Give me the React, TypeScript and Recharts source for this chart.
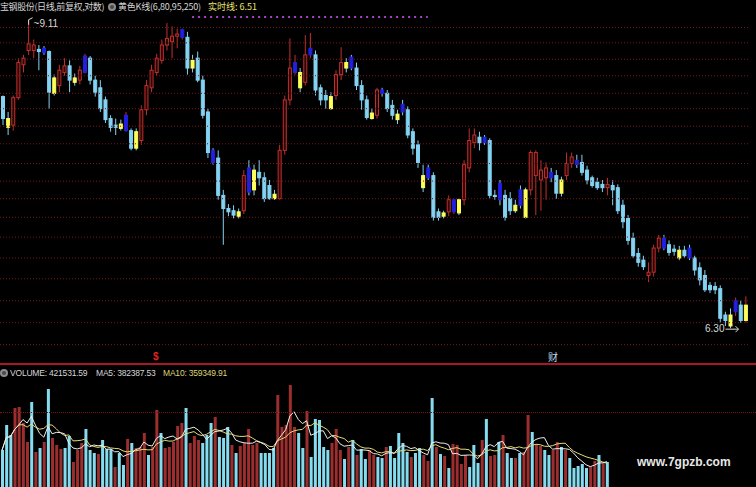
import React from 'react';
import { ComposedChart, Bar, Line, XAxis, YAxis, ReferenceLine, Cell } from 'recharts';

// daily candles (146 sessions)
const OPEN = [
  8.41, 8.21, 8.15, 8.40, 8.70, 8.83, 8.83, 8.84, 8.85, 8.82,
  8.58, 8.51, 8.63, 8.69, 8.58, 8.56, 8.63, 8.76, 8.56, 8.49,
  8.38, 8.21, 8.15, 8.16, 8.10, 8.10, 8.09, 8.01, 8.29, 8.49,
  8.63, 8.74, 8.88, 8.91, 8.96, 8.95, 8.95, 8.74, 8.76, 8.56,
  8.27, 7.92, 7.85, 7.51, 7.39, 7.37, 7.36, 7.37, 7.76, 7.74,
  7.72, 7.67, 7.60, 7.52, 7.48, 7.92, 8.38, 8.63, 8.63, 8.54,
  8.79, 8.79, 8.49, 8.42, 8.41, 8.42, 8.61, 8.72, 8.77, 8.67,
  8.51, 8.38, 8.26, 8.24, 8.47, 8.44, 8.33, 8.25, 8.34, 8.29,
  8.09, 7.97, 7.69, 7.76, 7.69, 7.36, 7.35, 7.36, 7.36, 7.47,
  7.47, 7.76, 7.99, 8.04, 8.04, 8.01, 7.51, 7.62, 7.51, 7.48,
  7.42, 7.56, 7.56, 7.56, 7.69, 7.65, 7.67, 7.72, 7.69, 7.65,
  7.69, 7.80, 7.83, 7.81, 7.74, 7.67, 7.63, 7.61, 7.58, 7.60,
  7.58, 7.42, 7.30, 7.12, 6.98, 6.92, 6.78, 6.81, 7.03, 7.12,
  7.06, 7.02, 7.01, 7.01, 7.03, 6.94, 6.85, 6.78, 6.69, 6.68,
  6.66, 6.42, 6.42, 6.45, 6.51, 6.37,
];
const HIGH = [
  8.42, 8.27, 8.42, 8.76, 8.79, 9.11, 8.93, 8.88, 8.87, 8.83,
  8.61, 8.70, 8.76, 8.74, 8.62, 8.69, 8.80, 8.78, 8.60, 8.56,
  8.41, 8.24, 8.21, 8.20, 8.27, 8.12, 8.12, 8.33, 8.56, 8.70,
  8.80, 8.93, 9.08, 9.05, 9.03, 9.03, 9.00, 8.79, 8.82, 8.60,
  8.30, 7.94, 7.92, 7.56, 7.43, 7.42, 7.39, 7.74, 7.83, 7.79,
  7.83, 7.72, 7.65, 7.56, 7.97, 8.42, 8.94, 8.79, 8.67, 8.97,
  8.99, 8.83, 8.52, 8.47, 8.45, 8.65, 8.86, 8.76, 8.79, 8.72,
  8.56, 8.42, 8.30, 8.49, 8.49, 8.47, 8.38, 8.29, 8.38, 8.32,
  8.12, 8.01, 7.79, 7.79, 7.72, 7.39, 7.37, 7.51, 7.48, 7.48,
  7.83, 8.12, 8.12, 8.09, 8.06, 8.03, 7.56, 7.65, 7.56, 7.54,
  7.47, 7.60, 7.58, 7.92, 7.92, 7.83, 7.81, 7.76, 7.74, 7.68,
  7.90, 7.90, 7.88, 7.88, 7.78, 7.69, 7.67, 7.65, 7.67, 7.65,
  7.61, 7.47, 7.33, 7.17, 7.03, 6.96, 6.90, 7.06, 7.15, 7.15,
  7.10, 7.06, 7.05, 7.05, 7.06, 6.96, 6.90, 6.83, 6.72, 6.72,
  6.69, 6.45, 6.48, 6.58, 6.55, 6.59,
];
const LOW = [
  8.15, 8.06, 8.10, 8.38, 8.63, 8.79, 8.76, 8.65, 8.79, 8.30,
  8.42, 8.45, 8.60, 8.45, 8.51, 8.52, 8.62, 8.52, 8.41, 8.27,
  8.17, 8.09, 8.06, 8.10, 8.09, 7.92, 7.92, 7.97, 8.24, 8.45,
  8.60, 8.71, 8.83, 8.76, 8.85, 8.93, 8.61, 8.63, 8.54, 8.21,
  7.85, 7.79, 7.47, 7.06, 7.32, 7.30, 7.30, 7.34, 7.51, 7.51,
  7.60, 7.45, 7.47, 7.47, 7.47, 7.88, 8.33, 8.61, 8.45, 8.51,
  8.76, 8.42, 8.33, 8.30, 8.29, 8.38, 8.56, 8.63, 8.65, 8.47,
  8.29, 8.20, 8.20, 8.21, 8.41, 8.27, 8.20, 8.16, 8.24, 8.03,
  7.88, 7.76, 7.54, 7.65, 7.28, 7.28, 7.30, 7.32, 7.34, 7.33,
  7.42, 7.72, 7.94, 7.92, 7.97, 7.48, 7.47, 7.42, 7.28, 7.33,
  7.35, 7.39, 7.30, 7.51, 7.33, 7.37, 7.47, 7.63, 7.48, 7.50,
  7.65, 7.76, 7.76, 7.69, 7.61, 7.58, 7.56, 7.54, 7.51, 7.42,
  7.34, 7.21, 7.06, 6.94, 6.86, 6.83, 6.72, 6.77, 6.99, 7.01,
  6.96, 6.96, 6.92, 6.94, 6.92, 6.78, 6.69, 6.63, 6.62, 6.61,
  6.35, 6.32, 6.30, 6.41, 6.35, 6.35,
];
const CLOSE = [
  8.21, 8.13, 8.40, 8.72, 8.76, 8.89, 8.88, 8.82, 8.81, 8.45,
  8.44, 8.65, 8.69, 8.56, 8.54, 8.65, 8.78, 8.56, 8.45, 8.30,
  8.20, 8.13, 8.13, 8.12, 8.24, 7.94, 7.94, 8.29, 8.51, 8.65,
  8.76, 8.88, 8.94, 8.96, 8.98, 9.02, 8.67, 8.67, 8.56, 8.24,
  7.90, 7.81, 7.51, 7.39, 7.36, 7.33, 7.32, 7.69, 7.54, 7.56,
  7.67, 7.48, 7.48, 7.48, 7.92, 8.38, 8.67, 8.72, 8.49, 8.79,
  8.85, 8.47, 8.38, 8.38, 8.30, 8.61, 8.72, 8.67, 8.67, 8.51,
  8.38, 8.22, 8.21, 8.47, 8.44, 8.30, 8.24, 8.20, 8.27, 8.06,
  7.94, 7.81, 7.58, 7.67, 7.31, 7.31, 7.32, 7.47, 7.47, 7.35,
  7.79, 8.01, 8.06, 7.99, 7.99, 7.51, 7.50, 7.47, 7.31, 7.37,
  7.37, 7.42, 7.31, 7.90, 7.90, 7.74, 7.76, 7.67, 7.53, 7.53,
  7.80, 7.86, 7.79, 7.72, 7.65, 7.60, 7.58, 7.58, 7.61, 7.56,
  7.37, 7.27, 7.10, 6.96, 6.90, 6.86, 6.81, 7.03, 7.12, 7.03,
  6.99, 7.00, 6.94, 6.96, 6.94, 6.83, 6.74, 6.65, 6.65, 6.65,
  6.39, 6.37, 6.32, 6.55, 6.37, 6.51,
];

// sessions the 黄色K线 indicator paints yellow / blue
const YELLOW_DAYS = [1, 10, 14, 23, 26, 37, 46, 49, 53, 58, 64, 67, 72, 77, 82, 86, 89, 100, 102, 109, 132, 142, 145];
const BLUE_DAYS = [8, 16, 24, 35, 41, 48, 57, 60, 68, 74, 78, 83, 88, 94, 97, 101, 107, 112, 129, 134, 143];

const VOLUME = [
  624000, 1045000, 877000, 1332000, 1349000, 1079000, 759000, 1433000, 590000, 658000,
  759000, 1652000, 826000, 708000, 641000, 658000, 860000, 422000, 624000, 742000,
  978000, 624000, 573000, 556000, 792000, 641000, 641000, 337000, 573000, 371000,
  809000, 742000, 658000, 674000, 910000, 540000, 674000, 1298000, 910000, 658000,
  674000, 759000, 1028000, 1079000, 1332000, 742000, 860000, 792000, 742000, 877000,
  1079000, 1180000, 843000, 826000, 1012000, 708000, 573000, 691000, 742000, 978000,
  708000, 742000, 573000, 573000, 573000, 658000, 1551000, 1012000, 1045000, 1720000,
  1012000, 910000, 658000, 1281000, 506000, 1146000, 1130000, 674000, 624000, 742000,
  978000, 624000, 472000, 674000, 792000, 540000, 641000, 472000, 624000, 540000,
  506000, 489000, 674000, 691000, 489000, 910000, 742000, 590000, 506000, 573000,
  658000, 540000, 438000, 1501000, 674000, 556000, 523000, 320000, 725000, 708000,
  388000, 540000, 337000, 708000, 405000, 792000, 1146000, 523000, 540000, 759000,
  877000, 573000, 489000, 489000, 573000, 590000, 1214000, 927000, 708000, 691000,
  624000, 540000, 624000, 759000, 674000, 624000, 489000, 320000, 354000, 388000,
  320000, 337000, 438000, 540000, 405000, 421531.59,
];
// 1 = red (up) volume bar, 0 = cyan
const VOL_UP = [
  0, 0, 0, 1, 1, 1, 1, 0, 1, 0,
  1, 0, 1, 1, 1, 0, 0, 1, 1, 1,
  0, 0, 0, 1, 0, 0, 0, 1, 0, 0,
  1, 0, 1, 1, 1, 0, 1, 1, 0, 1,
  1, 1, 1, 1, 0, 1, 1, 1, 0, 0,
  0, 1, 0, 0, 0, 1, 0, 1, 1, 1,
  1, 1, 0, 0, 0, 0, 1, 1, 1, 1,
  1, 0, 0, 1, 0, 0, 0, 0, 0, 1,
  1, 1, 0, 1, 0, 1, 0, 0, 1, 1,
  0, 0, 1, 0, 0, 0, 0, 0, 1, 0,
  0, 1, 1, 0, 1, 0, 1, 0, 1, 1,
  1, 1, 0, 0, 0, 1, 0, 1, 1, 0,
  1, 0, 0, 1, 0, 1, 1, 0, 1, 1,
  0, 0, 1, 1, 0, 1, 0, 0, 0, 0,
  0, 1, 1, 0, 1, 0,
];

const GRID_PRICES = [9.04, 8.9, 8.75, 8.6, 8.44, 8.3, 8.14, 7.98, 7.8, 7.64, 7.48, 7.31, 7.13, 6.94, 6.75, 6.55, 6.35, 6.15];
const SIGNAL_PRICE = 9.135;
const SIGNAL_FROM = 37;
const SIGNAL_TO = 83;

const RED = '#c0302c';
const CYAN = '#84d3f3';
const YELLOW = '#ffff5c';
const BLUE = '#2020e0';
const GRID = '#7a1616';

const candles = OPEN.map((o, i) => ({
  idx: i,
  open: o,
  high: HIGH[i],
  low: LOW[i],
  close: CLOSE[i],
  range: [LOW[i], HIGH[i]],
  mark: YELLOW_DAYS.includes(i) ? 'y' : BLUE_DAYS.includes(i) ? 'b' : '',
}));

const HI_IDX = HIGH.indexOf(Math.max(...HIGH));
const LO_IDX = LOW.indexOf(Math.min(...LOW));

const avg = (arr: number[], i: number, n: number) => {
  const s = arr.slice(Math.max(0, i - n + 1), i + 1);
  return s.reduce((a, b) => a + b, 0) / s.length;
};

const volumes = VOLUME.map((v, i) => ({
  idx: i,
  vol: v,
  up: VOL_UP[i],
  ma5: avg(VOLUME, i, 5),
  ma10: avg(VOLUME, i, 10),
}));

function Candle(props: any) {
  const { x, y, width, height, payload } = props;
  if (x == null || payload == null) return null;
  const top = Math.min(y, y + height);
  const bot = Math.max(y, y + height);
  const { open, close, high, low, mark, idx } = payload;
  const span = high - low || 1;
  const py = (v: number) => top + ((high - v) / span) * (bot - top);
  const cx = x + width / 2;
  const up = close >= open;
  const col = up ? RED : CYAN;
  const bTop = py(Math.max(open, close));
  const bh = Math.max(1, py(Math.min(open, close)) - bTop);
  let fill = up ? '#2a0606' : CYAN;
  let stroke = col;
  if (mark === 'y') { fill = YELLOW; stroke = YELLOW; }
  if (mark === 'b') { fill = BLUE; stroke = BLUE; }
  return (
    <g>
      <line x1={cx} x2={cx} y1={top} y2={bot} stroke={col} strokeWidth={1} />
      <rect x={x + 0.5} y={bTop} width={width - 1} height={bh} fill={fill} stroke={stroke} strokeWidth={1} />
      {idx === HI_IDX && (
        <g>
          <polyline points={`${cx},${top + 5} ${cx},${top} ${cx + 4},${top - 2}`} fill="none" stroke="#d8d8d8" strokeWidth={1} />
          <text x={cx + 5} y={top + 7} fill="#d8d8d8" fontSize={10} fontFamily="Liberation Sans, Arial">{'~' + high.toFixed(2)}</text>
        </g>
      )}
      {idx === LO_IDX && (
        <g>
          <text x={cx - 6} y={bot + 4} fill="#d8d8d8" fontSize={10} fontFamily="Liberation Sans, Arial" textAnchor="end">{low.toFixed(2)}</text>
          <line x1={cx - 5} x2={cx + 8} y1={bot + 1} y2={bot + 1} stroke="#d8d8d8" strokeWidth={1} />
          <polyline points={`${cx + 5},${bot - 2} ${cx + 8},${bot + 1} ${cx + 5},${bot + 4}`} fill="none" stroke="#d8d8d8" strokeWidth={1} />
        </g>
      )}
    </g>
  );
}

const txt: React.CSSProperties = {
  position: 'absolute',
  fontFamily: '"Noto Sans CJK SC", "Liberation Sans", sans-serif',
  fontSize: 9,
  lineHeight: '12px',
  whiteSpace: 'nowrap',
  color: '#d6d6d6',
};

const num: React.CSSProperties = {
  ...txt,
  fontFamily: '"Liberation Sans", Arial, sans-serif',
  fontSize: 8.5,
  letterSpacing: -0.2,
};

const Icon = ({ left, top }: { left: number; top: number }) => (
  <div style={{ position: 'absolute', left, top, width: 8, height: 8, borderRadius: 4, background: '#8c8c8c' }}>
    <div style={{ position: 'absolute', left: 2, top: 2, width: 4, height: 4, borderRadius: 2, background: '#4a4a4a' }} />
  </div>
);

export default function App() {
  return (
    <div style={{ position: 'fixed', left: 0, top: 0, width: 756, height: 487, background: '#000', overflow: 'hidden' }}>
      <div style={{ position: 'absolute', left: 0, top: 0 }}>
        <ComposedChart width={748} height={360} data={candles} margin={{ top: 0, right: 0, bottom: 0, left: 0 }}>
          <XAxis dataKey="idx" hide />
          <YAxis hide domain={[6.01, 9.29]} type="number" allowDataOverflow />
          {GRID_PRICES.map((p) => (
            <ReferenceLine key={p} y={p} stroke={GRID} strokeDasharray="1 2" />
          ))}
          <ReferenceLine
            segment={[{ x: SIGNAL_FROM, y: SIGNAL_PRICE }, { x: SIGNAL_TO, y: SIGNAL_PRICE }]}
            stroke="#a844c8"
            strokeWidth={2}
            strokeDasharray="2 4"
          />
          <Bar dataKey="range" barSize={4} shape={Candle} isAnimationActive={false} />
        </ComposedChart>
      </div>

      <div style={{ position: 'absolute', left: 0, top: 380 }}>
        <ComposedChart width={609} height={107} data={volumes} margin={{ top: 0, right: 0, bottom: 0, left: 0 }}>
          <XAxis dataKey="idx" hide />
          <YAxis hide domain={[0, 1804000]} type="number" allowDataOverflow />
          <Bar dataKey="vol" barSize={3} isAnimationActive={false}>
            {volumes.map((d) => (
              <Cell key={d.idx} fill={d.up ? '#9c2e2e' : '#86dcef'} />
            ))}
          </Bar>
          <Line dataKey="ma10" stroke="#e4dc78" strokeWidth={1} dot={false} type="linear" isAnimationActive={false} />
          <Line dataKey="ma5" stroke="#eeeeee" strokeWidth={1} dot={false} type="linear" isAnimationActive={false} />
        </ComposedChart>
      </div>

      {/* panel furniture */}
      <div style={{ position: 'absolute', left: 0, top: 412, width: 756, borderTop: `1px dotted ${GRID}` }} />
      <div style={{ position: 'absolute', left: 0, top: 363, width: 756, height: 2, background: '#a8182a' }} />

      <div style={{ ...txt, left: 0, top: 1, letterSpacing: -0.4 }}>宝钢股份(日线,前复权,对数)</div>
      <Icon left={108} top={3} />
      <div style={{ ...txt, left: 118, top: 1, letterSpacing: -0.2 }}>黄色K线(6,80,95,250)</div>
      <div style={{ ...txt, left: 208, top: 1, color: '#ece070' }}>实时线: 6.51</div>

      <Icon left={0} top={369} />
      <div style={{ ...num, left: 10, top: 367 }}>VOLUME: 421531.59</div>
      <div style={{ ...num, left: 96, top: 367 }}>MA5: 382387.53</div>
      <div style={{ ...num, left: 163, top: 367, color: '#dcd478' }}>MA10: 359349.91</div>

      <div style={{ ...txt, left: 153, top: 351, fontSize: 10, color: '#e02424', fontWeight: 700, fontFamily: '"Liberation Sans", Arial' }}>$</div>
      <div style={{ ...txt, left: 548, top: 351, fontSize: 10, color: '#bcd8f0' }}>财</div>

      <div style={{ ...txt, left: 637, top: 456, color: '#e8e8e8', fontFamily: '"Liberation Sans", Arial', fontSize: 12, fontWeight: 700 }}>www.7gpzb.com</div>
    </div>
  );
}
